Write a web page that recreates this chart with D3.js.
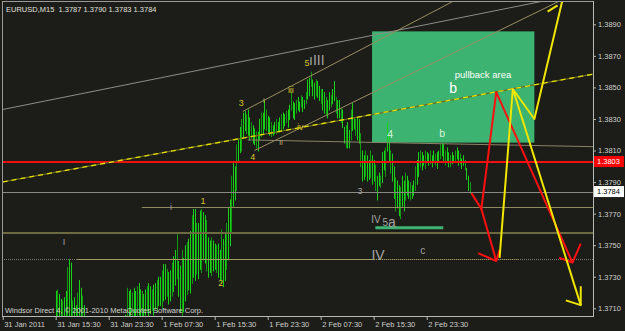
<!DOCTYPE html>
<html><head><meta charset="utf-8">
<script src="https://cdn.jsdelivr.net/npm/d3@7"></script>
<style>body{margin:0;background:#1c1c18;} svg{display:block;} text{white-space:pre;}</style>
</head><body><svg id="c" width="625" height="331"></svg>
<script>
// ---------------- DATA ----------------
const symbolTitle = "EURUSD,M15  1.3787 1.3790 1.3783 1.3784";
const copyright = "Windsor Direct 4, \u00A9 2001-2010 MetaQuotes Software Corp.";

// time axis
const timeTicks = ["2011-01-31 07:30","2011-01-31 15:30","2011-01-31 23:30","2011-02-01 07:30","2011-02-01 15:30","2011-02-01 23:30","2011-02-02 07:30","2011-02-02 15:30","2011-02-02 23:30"];
const timeTickLabels = ["31 Jan 2011","31 Jan 15:30","31 Jan 23:30","1 Feb 07:30","1 Feb 15:30","1 Feb 23:30","2 Feb 07:30","2 Feb 15:30","2 Feb 23:30"];
// price axis
const priceTicks = [1.3710,1.3730,1.3750,1.3770,1.3790,1.3810,1.3830,1.3850,1.3870,1.3890];

// M15 bars, first bar time, highs / lows in pips (price x 10000)
const firstBarTime = "2011-01-31 15:30";
const barMinutes = 15;
const barHighPips = [
 13721,13722,13719,13716,13715,13717,13721,13736,13741,13739,13715,13717,13712,13720,13728,13723,13718,13712,
 13701,13699,13697,13695,13698,13700,13696,13694,13692,13695,13697,13693,13690,13692,13696,13698,13701,13699,13697,13700,13702,13703,13701,13704,13706,
 13723,13721,13722,13720,13723,13721,13724,13726,13722,13721,13719,13722,13724,13726,13724,13722,13725,13726,13728,13730,
 13730,13734,13738,13738,13735,13733,13734,13739,13743,13747,13757,13740,13737,13747,13742,13750,13752,13754,13759,13769,13773,13773,13764,13764,13772,13773,
 13771,13769,13766,13755,13753,13755,13753,13751,13750,13751,13747,13760,13754,13758,13764,13774,13779,13794,
 13803,13800,13814,13817,13825,13830,13834,13835,13833,13836,13831,13828,13826,13824,13822,13822,13830,13834,13834,13842,
 13836,13832,13831,13828,13826,13828,13830,13828,13831,13833,13834,13833,13835,13836,13839,13847,13841,13840,13842,13844,
 13841,13845,13844,13842,13847,13855,13856,13860,13855,13853,13855,13854,13851,13849,13849,13847,13844,13842,13847,13845,
 13849,13854,13844,13842,13842,13837,13836,13825,13826,13828,13823,13836,13840,13831,13830,13831,13830,13821,13810,13807,
 13810,13807,13804,13810,13807,13804,13801,13794,13796,13794,13809,13810,13812,13828,13820,13810,13808,13800,13793,13791,
 13788,13787,13794,13791,13796,13794,13791,13790,13788,13791,13800,13804,13809,13810,13809,13807,13810,13809,13808,13810,
 13807,13810,13808,13809,13810,13814,13815,13814,13810,13812,13809,13807,13809,13807,13810,13812,13810,13808,13805,13807,
 13804,13799,13794,13790
];
const barLowPips = [
 13696,13694,13697,13695,13698,13700,13702,13701,13699,13703,13697,13699,13696,13698,13700,13698,13697,13695,
 13688,13686,13684,13683,13685,13687,13684,13682,13680,13683,13685,13681,13679,13680,13684,13686,13688,13687,13685,13688,13690,13691,13689,13692,13693,
 13700,13702,13699,13703,13705,13701,13704,13706,13703,13700,13702,13706,13708,13705,13707,13709,13706,13710,13708,13712,
 13712,13710,13715,13716,13718,13713,13715,13718,13721,13725,13729,13718,13708,13705,13708,13715,13719,13722,13720,13726,13730,13728,13732,13729,13735,13733,
 13741,13739,13734,13730,13733,13731,13734,13735,13733,13730,13728,13726,13724,13728,13735,13741,13750,13758,
 13775,13779,13785,13804,13809,13810,13819,13823,13821,13820,13817,13818,13815,13814,13812,13810,13817,13819,13821,13824,
 13823,13822,13820,13819,13820,13821,13821,13823,13822,13823,13824,13826,13828,13825,13830,13836,13831,13830,13834,13836,
 13835,13838,13835,13837,13840,13843,13845,13851,13845,13843,13845,13844,13842,13840,13836,13834,13833,13831,13836,13838,
 13840,13842,13834,13831,13831,13828,13825,13815,13812,13812,13812,13817,13823,13824,13820,13817,13815,13800,13791,13792,
 13794,13791,13792,13793,13789,13791,13785,13779,13788,13787,13790,13798,13794,13810,13804,13796,13791,13780,13772,13774,
 13769,13767,13775,13772,13779,13782,13780,13779,13780,13782,13785,13789,13794,13800,13798,13801,13799,13803,13801,13802,
 13800,13803,13801,13799,13804,13805,13807,13804,13801,13804,13800,13800,13802,13804,13803,13805,13801,13802,13799,13801,
 13798,13792,13785,13783
];

// horizontal levels
const stopLevel = 1.3803;
const bidPrice = 1.3784;
const wave1Level = {price:1.3774, from:"2011-02-01 04:30"};
const waveIVZone = 1.3758;
const waveIILevel = {price:1.3741, solidFrom:"2011-01-31 18:45", solidTo:"2011-02-02 15:30", dottedTo:"2011-02-03 13:30"};

// trend lines (two anchor points each, extended to the right)
const grayTrend     = [["2011-01-31 07:30",1.3836],["2011-02-03 16:15",1.3904]];
const channelUpper  = [["2011-02-01 19:45",1.38348],["2011-02-02 22:30",1.38936]];
const channelLower  = [["2011-02-01 21:30",1.3810],["2011-02-03 10:00",1.38851]];
const yellowTrend   = [["2011-01-31 07:30",1.37901],["2011-02-03 10:00",1.38472]];
const waveIILine    = [["2011-02-01 20:30",1.38167],["2011-02-03 22:45",1.38126]];

// pullback area
const pullbackBox = {from:"2011-02-02 15:15", to:"2011-02-03 15:45", top:1.38855, bottom:1.3815};
const waveASupport = {from:"2011-02-02 15:45", to:"2011-02-03 02:00", price:1.3761};

// projected paths
const redPath       = [["2011-02-03 06:15",1.3783],["2011-02-03 07:45",1.3773],["2011-02-03 10:00",1.3847],["2011-02-03 21:30",1.3739]];
const redArrowA     = [["2011-02-03 19:30",1.3742],["2011-02-03 21:30",1.3739],["2011-02-03 22:45",1.3751]];
const redPathB      = [["2011-02-03 07:45",1.3773],["2011-02-03 10:00",1.3740]];
const redArrowB     = [["2011-02-03 07:15",1.3745],["2011-02-03 10:00",1.3740],["2011-02-03 10:30",1.3747]];
const yellowPath    = [["2011-02-03 10:30",1.3742],["2011-02-03 12:30",1.3849],["2011-02-03 15:45",1.3830],["2011-02-03 20:15",1.3910]];
const yellowArrowUp = [["2011-02-03 17:45",1.3898],["2011-02-03 19:15",1.3902]];
const yellowPath2   = [["2011-02-03 12:30",1.3849],["2011-02-03 22:45",1.3712]];
const yellowArrowDn = [["2011-02-03 20:30",1.3715],["2011-02-03 22:45",1.3712],["2011-02-03 22:45",1.3724]];

// wave labels [time, price, text]
const minorLabels = [["2011-02-01 13:45",1.37780,"1"],["2011-02-01 16:25",1.37260,"2"],["2011-02-01 19:30",1.38401,"3"],["2011-02-01 21:15",1.38059,"4"],["2011-02-02 05:25",1.38655,"5"],["2011-02-02 03:00",1.38485,"iii"],["2011-02-02 04:25",1.38248,"iv"]];
const minuteLabels = [["2011-02-01 22:55",1.38420,"i"],["2011-02-02 01:30",1.38148,"ii"]];
const grayLabels = [["2011-01-31 16:45",1.37520,"I"],["2011-02-01 08:55",1.37742,"i"],["2011-02-02 13:25",1.37844,"3"]];
const graySmallLabels = [["2011-02-02 15:50",1.37660,"IV"],["2011-02-02 17:15",1.37641,"5"],["2011-02-02 22:55",1.37467,"c"]];
const grayLargeLabels = [["2011-02-02 06:55",1.38674,"\u0131III"],["2011-02-02 18:15",1.37647,"a"],["2011-02-02 16:10",1.37435,"IV"]];
const boxWaveLabels = [["2011-02-02 18:00",1.38204,"4"],["2011-02-03 01:50",1.38211,"b"]];
const boxTitle = ["2011-02-03 08:00",1.38579,"pullback area"];
const boxLetter = ["2011-02-03 03:30",1.38496,"b"];

// ---------------- DRAW ----------------
const T = d3.utcParse("%Y-%m-%d %H:%M");
const x = d3.scaleUtc().domain([T(timeTicks[0]), T(timeTicks[timeTicks.length-1])]).range([2.7, 426.7]);
const y = d3.scaleLinear().domain([1.3710, 1.3890]).range([308.3, 24.3]);
const P = d => [x(T(d[0])), y(d[1])];
const FONT = "Liberation Sans, Arial, sans-serif";

const svg = d3.select("#c");
svg.append("rect").attr("width",625).attr("height",331).attr("fill","#1c1c18");
svg.append("defs").append("clipPath").attr("id","clip")
  .append("rect").attr("x",2).attr("y",2).attr("width",591).attr("height",315);
const g = svg.append("g").attr("clip-path","url(#clip)");

// background box
g.append("rect")
  .attr("x", x(T(pullbackBox.from))).attr("y", y(pullbackBox.top))
  .attr("width", x(T(pullbackBox.to)) - x(T(pullbackBox.from)))
  .attr("height", y(pullbackBox.bottom) - y(pullbackBox.top))
  .attr("fill","#3cb371");

function hline(price, t0, t1, color, w, dash){
  const x0 = t0 ? x(T(t0)) : 0, x1 = t1 ? x(T(t1)) : 625;
  const yy = Math.round(y(price)) + (w % 2 ? 0.5 : 0);
  g.append("line").attr("x1",x0).attr("x2",x1).attr("y1",yy).attr("y2",yy)
   .attr("stroke",color).attr("stroke-width",w).attr("stroke-dasharray",dash||null);
}
function ray(pts, color, w, dash){
  const [a,b] = pts.map(P);
  const k = (b[1]-a[1])/(b[0]-a[0]);
  g.append("line").attr("x1",a[0]).attr("y1",a[1]).attr("x2",800).attr("y2",a[1]+k*(800-a[0]))
   .attr("stroke",color).attr("stroke-width",w).attr("stroke-dasharray",dash||null);
}
const line = d3.line();
function path(pts, color, w){
  g.append("path").attr("d", line(pts.map(P))).attr("fill","none")
   .attr("stroke",color).attr("stroke-width",w).attr("stroke-linejoin","round");
}

// bars
const t0 = T(firstBarTime);
g.append("g").selectAll("line").data(barHighPips).join("line")
  .attr("x1",(d,i)=>Math.round(x(d3.utcMinute.offset(t0, i*barMinutes)))+0.5)
  .attr("x2",(d,i)=>Math.round(x(d3.utcMinute.offset(t0, i*barMinutes)))+0.5)
  .attr("y1",d=>y(d/1e4)).attr("y2",(d,i)=>y(barLowPips[i]/1e4)+1)
  .attr("stroke",(d,i)=> i%3===1 ? "#0f9a0f" : "#17d017").attr("stroke-width",1);

// horizontal levels
hline(waveIVZone, null, null, "#6c6a40", 2);
hline(waveIILevel.price, null, null, "#7a7a70", 1, "1,1");
hline(waveIILevel.price, waveIILevel.solidFrom, waveIILevel.solidTo, "#a49d62", 1);
hline(waveIILevel.price, waveIILevel.solidTo, waveIILevel.dottedTo, "#a49d62", 1, "1,1");
hline(wave1Level.price, wave1Level.from, null, "#8f8960", 1);
hline(bidPrice, null, null, "#8a8a84", 1);
hline(stopLevel, null, null, "#f01010", 2);

// trend lines
ray(grayTrend, "#8c8c88", 1);
ray(channelUpper, "#9a8f62", 1);
ray(channelLower, "#9a8f62", 1);
ray(waveIILine, "#8a8566", 1);
ray(yellowTrend, "#6d6a1c", 1.3);
ray(yellowTrend, "#e4e000", 1.3, "5,4");

// wave a support bar
g.append("line").attr("x1",x(T(waveASupport.from))).attr("x2",x(T(waveASupport.to)))
  .attr("y1",y(waveASupport.price)).attr("y2",y(waveASupport.price))
  .attr("stroke","#3cb371").attr("stroke-width",3);

// projections
path(redPath, "#ff1010", 2);
path(redArrowA, "#ff1010", 2);
path(redPathB, "#ff1010", 2);
path(redArrowB, "#ff1010", 2);
path(yellowPath, "#f0e600", 2);
path(yellowArrowUp, "#f0e600", 2);
path(yellowPath2, "#f0e600", 2);
path(yellowArrowDn, "#f0e600", 2);

// labels
function labels(arr, color, size){
  g.append("g").selectAll("text").data(arr).join("text")
   .attr("x",d=>x(T(d[0]))).attr("y",d=>y(d[1]))
   .attr("text-anchor","middle").attr("dominant-baseline","central")
   .attr("fill",color).attr("font-size",size).attr("font-family",FONT).text(d=>d[2]);
}
labels(minorLabels, "#d6c22c", 9);
labels(minuteLabels, "#b9a96e", 8);
labels(grayLabels, "#a4a4a0", 9);
labels(graySmallLabels, "#a4a4a0", 10);
labels(grayLargeLabels, "#a4a4a0", 14);
labels(boxWaveLabels, "#d8f5d8", 10.5);
labels([boxTitle], "#ffffff", 9.5);
labels([boxLetter], "#ffffff", 14);

// frame
svg.append("rect").attr("x",2.5).attr("y",1.5).attr("width",591).attr("height",315)
  .attr("fill","none").attr("stroke","#9a9a98").attr("stroke-width",1);
svg.append("line").attr("x1",593.5).attr("x2",593.5).attr("y1",1).attr("y2",317).attr("stroke","#b8b8b4");
svg.append("line").attr("x1",2).attr("x2",594).attr("y1",316.5).attr("y2",316.5).attr("stroke","#b8b8b4");

// axes
const xa = svg.append("g").attr("transform","translate(0,317)")
  .call(d3.axisBottom(x).tickValues(timeTicks.map(T)).tickFormat((d,i)=>timeTickLabels[i]).tickSize(3).tickPadding(2));
xa.select(".domain").remove();
xa.selectAll("line").attr("stroke","#b8b8b4");
xa.selectAll("text").attr("text-anchor","start").attr("x",1).attr("fill","#d0d0cc")
  .attr("font-size",7.5).attr("font-family",FONT);

const ya = svg.append("g").attr("transform","translate(593,0)")
  .call(d3.axisRight(y).tickValues(priceTicks).tickFormat(d3.format(".4f")).tickSize(3).tickPadding(2));
ya.select(".domain").remove();
ya.selectAll("line").attr("stroke","#b8b8b4");
ya.selectAll("text").attr("fill","#d0d0cc").attr("font-size",7.5).attr("font-family",FONT);

// price tags
function tag(price, bg, fg){
  const yy = y(price);
  svg.append("rect").attr("x",594).attr("y",yy-5.5).attr("width",30).attr("height",11).attr("fill",bg);
  svg.append("text").attr("x",597).attr("y",yy).attr("dominant-baseline","central")
    .attr("fill",fg).attr("font-size",7.5).attr("font-family",FONT).text(d3.format(".4f")(price));
}
tag(stopLevel, "#ff0000", "#ffffff");
tag(bidPrice, "#ffffff", "#000000");

// texts
svg.append("text").attr("x",6).attr("y",9).attr("dominant-baseline","central")
  .attr("fill","#e0e0dc").attr("font-size",7.5).attr("font-family",FONT).text(symbolTitle);
svg.append("text").attr("x",5).attr("y",310).attr("dominant-baseline","central")
  .attr("fill","#d4d4d0").attr("font-size",7.5).attr("font-family",FONT).text(copyright);
</script>
</body></html>
